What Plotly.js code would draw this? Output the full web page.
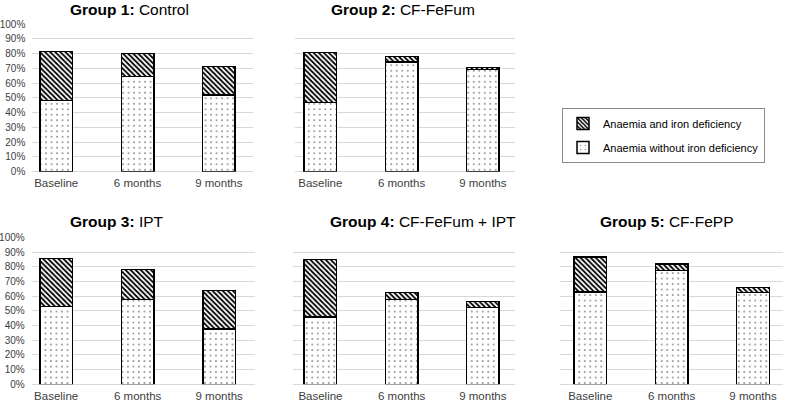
<!DOCTYPE html>
<html>
<head>
<meta charset="utf-8">
<script src="https://cdn.plot.ly/plotly-3.0.1.min.js"></script>
<style>
html, body { margin: 0; padding: 0; background: #fff; }
#chart { width: 785px; height: 405px; }
</style>
</head>
<body>
<div id="chart"></div>
<script>
// time points on the x axis
const timepoints = ['Baseline', '6 months', '9 months'];

// panel titles
const groupLabels = ['Group 1:', 'Group 2:', 'Group 3:', 'Group 4:', 'Group 5:'];
const groupNames = ['Control', 'CF-FeFum', 'IPT', 'CF-FeFum + IPT', 'CF-FePP'];

// legend names
const nameWithout = 'Anaemia without iron deficiency';
const nameWith = 'Anaemia and iron deficiency';

// percent of children
const g1Without = [48.1, 64.3, 51.9];
const g1With = [33.2, 15.8, 19.2];
const g2Without = [47.0, 74.3, 69.3];
const g2With = [33.6, 3.6, 1.4];
const g3Without = [52.8, 57.8, 37.6];
const g3With = [32.9, 20.4, 26.1];
const g4Without = [45.8, 57.8, 52.1];
const g4With = [39.1, 4.5, 4.1];
const g5Without = [62.8, 77.4, 62.3];
const g5With = [23.7, 4.3, 3.4];

const withoutSeries = [g1Without, g2Without, g3Without, g4Without, g5Without];
const withSeries = [g1With, g2With, g3With, g4With, g5With];

// panel placement in pixels (figure is 785 x 405, no margins)
const W = 785, H = 405;
const panels = [
    {x0: 32.3, x1: 253, y0: 24, y1: 171.7, range: [-0.294, 2.42], showY: true, tx: 68, ty: 9},
    {x0: 295, x1: 515, y0: 24, y1: 171.7, range: [-0.311, 2.396], showY: false, tx: 329, ty: 9},
    {x0: 31.7, x1: 255, y0: 237.3, y1: 384.3, range: [-0.30, 2.44], showY: true, tx: 68, ty: 221},
    {x0: 293, x1: 515, y0: 237.3, y1: 384.3, range: [-0.338, 2.396], showY: false, tx: 328, ty: 221},
    {x0: 560, x1: 783, y0: 237.3, y1: 384.3, range: [-0.372, 2.369], showY: false, tx: 598, ty: 221}
];

const font = 'Liberation Sans, Arial, sans-serif';
const barLine = {color: '#000', width: 1.5};

let data = [];
let layout = {
    width: W,
    height: H,
    margin: {l: 0, r: 0, t: 0, b: 0},
    paper_bgcolor: '#fff',
    plot_bgcolor: '#fff',
    barmode: 'stack',
    font: {family: font, size: 11, color: '#404040'},
    showlegend: true,
    legend: {
        x: 562 / W, y: 1 - 108 / H,
        xanchor: 'left', yanchor: 'top',
        bordercolor: '#8c8c8c', borderwidth: 1,
        bgcolor: '#fff',
        font: {family: font, size: 11, color: '#000'},
        traceorder: 'grouped',
        tracegroupgap: 5
    },
    annotations: []
};

for (let i = 0; i < panels.length; i++) {
    const p = panels[i];
    const sfx = i === 0 ? '' : String(i + 1);

    data.push({
        type: 'bar',
        x: timepoints,
        y: withoutSeries[i],
        name: nameWithout,
        legendgroup: 'without',
        legendrank: 2,
        showlegend: i === 0,
        width: 0.4,
        xaxis: 'x' + sfx,
        yaxis: 'y' + sfx,
        marker: {
            color: '#fff',
            line: barLine,
            pattern: {shape: '.', fgcolor: '#000', bgcolor: '#fff', size: 5.5, solidity: 0.04}
        },
        hoverinfo: 'skip'
    });
    data.push({
        type: 'bar',
        x: timepoints,
        y: withSeries[i],
        name: nameWith,
        legendgroup: 'with',
        legendrank: 1,
        showlegend: i === 0,
        width: 0.4,
        xaxis: 'x' + sfx,
        yaxis: 'y' + sfx,
        marker: {
            color: '#fff',
            line: barLine,
            pattern: {shape: '\\', fgcolor: '#000', bgcolor: '#fff', size: 3.6, solidity: 0.5}
        },
        hoverinfo: 'skip'
    });

    layout['xaxis' + sfx] = {
        domain: [p.x0 / W, p.x1 / W],
        anchor: 'y' + sfx,
        type: 'category',
        range: p.range,
        showgrid: false,
        showline: false,
        zeroline: false,
        ticks: '',
        ticklabelstandoff: 3,
        tickfont: {family: font, size: 11.5, color: '#404040'},
        fixedrange: true
    };
    layout['yaxis' + sfx] = {
        domain: [1 - p.y1 / H, 1 - p.y0 / H],
        anchor: 'x' + sfx,
        range: [0, 100],
        dtick: 10,
        ticksuffix: '%',
        showticklabels: p.showY,
        gridcolor: '#d9d9d9',
        gridwidth: 1,
        zeroline: true,
        zerolinecolor: '#d9d9d9',
        zerolinewidth: 1,
        showline: false,
        ticks: '',
        ticklabelstandoff: 6,
        tickfont: {family: font, size: 10, color: '#404040'},
        fixedrange: true
    };

    layout.annotations.push({
        xref: 'paper', yref: 'paper',
        x: p.tx / W, y: 1 - p.ty / H,
        xanchor: 'left', yanchor: 'middle',
        showarrow: false,
        text: '<b>' + groupLabels[i] + '</b> ' + groupNames[i],
        font: {family: font, size: 15.5, color: '#000'}
    });
}

Plotly.newPlot('chart', data, layout, {displayModeBar: false, staticPlot: true});
</script>
</body>
</html>
